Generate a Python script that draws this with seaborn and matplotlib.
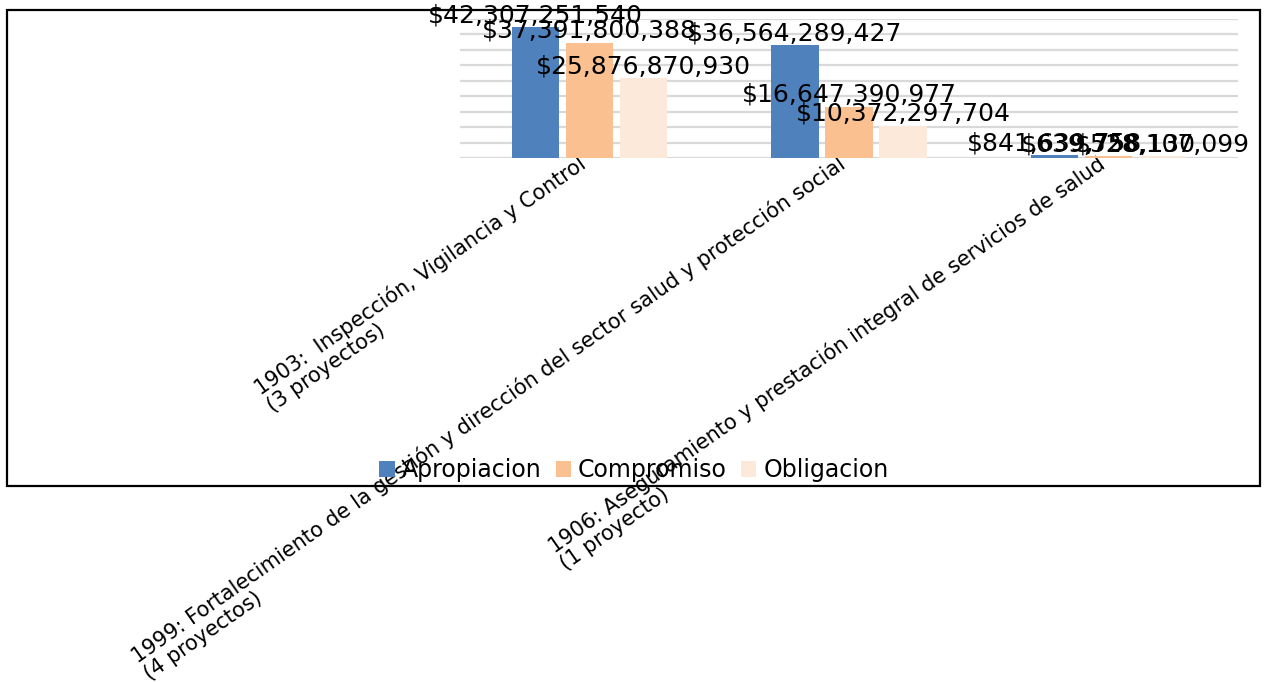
import pandas as pd
import numpy as np
import matplotlib
matplotlib.use("Agg")
import matplotlib.pyplot as plt
import matplotlib.transforms as mtransforms
from matplotlib.patches import Rectangle
import seaborn as sns

# Data
categorias = [
    "1903:  Inspección, Vigilancia y Control\n(3 proyectos)",
    "1999: Fortalecimiento de la gestión y dirección del sector salud y protección social\n(4 proyectos)",
    "1906: Aseguramiento y prestación integral de servicios de salud\n(1 proyecto)",
]
series = ["Apropiacion", "Compromiso", "Obligacion"]
apropiacion = [42307251540, 36564289427, 841639758]
compromiso = [37391800388, 16647390977, 639758130]
obligacion = [25876870930, 10372297704, 528107099]
colores = ["#4F81BD", "#FAC090", "#FDE9D9"]

df = pd.DataFrame({
    "categoria": categorias * 3,
    "serie": [s for s in series for _ in categorias],
    "valor": apropiacion + compromiso + obligacion,
})

sns.set_style("white")
plt.rcParams["font.family"] = ["DejaVu Sans"]
plt.rcParams["text.color"] = "black"
plt.rcParams["xtick.color"] = "black"

fig = plt.figure(figsize=(12.66, 6.82), dpi=100)
ax = fig.add_axes([460 / 1266, 1 - 158 / 682, (1238 - 460) / 1266, 139 / 682])

sns.barplot(data=df, x="categoria", y="valor", hue="serie", palette=colores,
            width=0.625, gap=0.12, ax=ax, legend=True, saturation=1, linewidth=0)

ax.set_ylim(0, 45e9)
ax.set_yticks(np.arange(0, 45e9 + 1, 5e9))
ax.set_yticklabels([])
ax.yaxis.grid(True, color="#D9D9D9", linewidth=1.6)
ax.set_axisbelow(True)
for s in ax.spines.values():
    s.set_visible(False)
ax.tick_params(axis="both", length=0)
ax.set_xlabel("")
ax.set_ylabel("")

# Rotated category labels, nudged so the end of the first line sits at the tick
ax.set_xticks(range(len(categorias)))
ax.set_xticklabels(categorias, rotation=35, ha="right", va="top",
                   multialignment="left", fontsize=15, linespacing=1.0)
ax.tick_params(axis="x", pad=0)
shift = mtransforms.ScaledTranslation(12 / 100, 5 / 100, fig.dpi_scale_trans)
for t in ax.get_xticklabels():
    t.set_color("black")
    t.set_transform(t.get_transform() + shift)

# Value labels above bars
for cont in ax.containers:
    ax.bar_label(cont, labels=["${:,.0f}".format(v) for v in cont.datavalues],
                 padding=0, fontsize=18, color="black")

handles, labels = ax.get_legend_handles_labels()
leg = ax.legend(handles, labels, loc="center", bbox_to_anchor=(634 / 1266, 1 - 470 / 682),
                bbox_transform=fig.transFigure, ncol=3, frameon=False, fontsize=17,
                handlelength=0.65, handleheight=0.65, handletextpad=0.3, columnspacing=0.6)
for t in leg.get_texts():
    t.set_color("black")

# Chart area border
fig.add_artist(Rectangle((7 / 1266, 1 - 486 / 682), (1260 - 7) / 1266, (486 - 10) / 682,
                         transform=fig.transFigure, fill=False, ec="black", lw=1.6))

fig.savefig("out.png", dpi=100)
